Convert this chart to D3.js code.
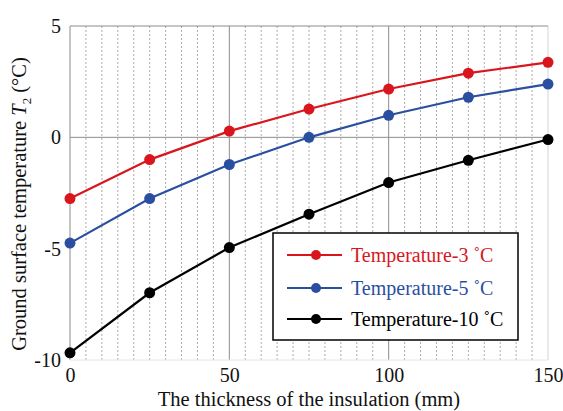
<!DOCTYPE html>
<html>
<head>
<meta charset="utf-8">
<script src="https://cdn.jsdelivr.net/npm/d3@7"></script>
<style>
  body { margin: 0; background: #fff; }
  svg { display: block; font-family: "Liberation Serif", "Times New Roman", serif; }
  svg text { font-family: "Liberation Serif", "Times New Roman", serif !important; }
</style>
</head>
<body>
<svg id="chart" width="563" height="411"></svg>
<script>
const thickness = [0, 25, 50, 75, 100, 125, 150];
const temp3 = [-2.75, -1.0, 0.28, 1.27, 2.17, 2.88, 3.37];
const temp5 = [-4.75, -2.75, -1.22, 0.0, 0.99, 1.8, 2.39];
const temp10 = [-9.68, -6.98, -4.95, -3.45, -2.03, -1.03, -0.1];
const seriesNames = ["Temperature-3 \u02daC", "Temperature-5 \u02daC", "Temperature-10 \u02daC"];
const seriesColors = ["#d9161e", "#2b4fa0", "#000000"];
const xTicks = [0, 50, 100, 150];
const yTicks = [5, 0, -5, -10];

const svg = d3.select("#chart");
const x = d3.scaleLinear().domain([0, 150]).range([70, 548]);
const y = d3.scaleLinear().domain([-10, 5]).range([360, 26]);

// minor dotted verticals every 5
const minor = d3.range(5, 150, 5).filter(v => v % 50 !== 0);
svg.append("g").selectAll("line").data(minor).join("line")
  .attr("x1", d => x(d)).attr("x2", d => x(d))
  .attr("y1", y(5)).attr("y2", y(-10))
  .attr("stroke", "#ababab").attr("stroke-width", 1)
  .attr("stroke-dasharray", "2,2");

// major verticals
svg.append("g").selectAll("line").data(xTicks).join("line")
  .attr("x1", d => x(d)).attr("x2", d => x(d))
  .attr("y1", y(5)).attr("y2", y(-10))
  .attr("stroke", d => d === 150 ? "#d4d4d4" : "#8c8c8c").attr("stroke-width", 1);

// horizontal lines
svg.append("g").selectAll("line").data([5, 0]).join("line")
  .attr("x1", x(0)).attr("x2", x(150))
  .attr("y1", d => y(d)).attr("y2", d => y(d))
  .attr("stroke", "#8c8c8c").attr("stroke-width", 1);
svg.append("line")
  .attr("x1", x(0)).attr("x2", x(150))
  .attr("y1", y(-10)).attr("y2", y(-10))
  .attr("stroke", "#e6e6e6").attr("stroke-width", 1);

// axes tick labels
const xAxis = d3.axisBottom(x).tickValues(xTicks).tickSize(0).tickPadding(8).tickFormat(d => String(d));
const gx = svg.append("g").attr("transform", `translate(0,${y(-10)})`).call(xAxis);
gx.select(".domain").remove();
gx.selectAll("text").attr("fill", "#111")
  .style("font-family", "'Liberation Serif', serif").style("font-size", "20px");

const yAxis = d3.axisLeft(y).tickValues(yTicks).tickSize(0).tickPadding(9).tickFormat(d => String(d));
const gy = svg.append("g").attr("transform", `translate(${x(0)},0)`).call(yAxis);
gy.select(".domain").remove();
gy.selectAll("text").attr("fill", "#111")
  .style("font-family", "'Liberation Serif', serif").style("font-size", "20px");

// lines
const allSeries = [temp3, temp5, temp10];
const line = d3.line().x((d, i) => x(thickness[i])).y(d => y(d));
allSeries.forEach((vals, si) => {
  svg.append("path").datum(vals)
    .attr("d", line).attr("fill", "none")
    .attr("stroke", seriesColors[si]).attr("stroke-width", 2.2);
  svg.append("g").selectAll("circle").data(vals).join("circle")
    .attr("cx", (d, i) => x(thickness[i])).attr("cy", d => y(d))
    .attr("r", 5.5).attr("fill", seriesColors[si]);
});

// legend
const lg = svg.append("g");
lg.append("rect").attr("x", 273).attr("y", 233).attr("width", 245).attr("height", 107)
  .attr("fill", "#fff").attr("stroke", "#000").attr("stroke-width", 1.5);
const rowsY = [255, 288, 319];
seriesNames.forEach((name, i) => {
  lg.append("line").attr("x1", 287).attr("x2", 342).attr("y1", rowsY[i]).attr("y2", rowsY[i])
    .attr("stroke", seriesColors[i]).attr("stroke-width", 2);
  lg.append("circle").attr("cx", 316).attr("cy", rowsY[i]).attr("r", 5).attr("fill", seriesColors[i]);
  lg.append("text").attr("x", 351).attr("y", rowsY[i]).attr("dy", "0.35em")
    .attr("font-size", 20).attr("fill", seriesColors[i]).text(name);
});

// axis titles
svg.append("text").attr("x", 309).attr("y", 406).attr("text-anchor", "middle")
  .attr("font-size", 20.5).attr("fill", "#111").text("The thickness of the insulation (mm)");

const yt = svg.append("text").attr("transform", "translate(26,204) rotate(-90)")
  .attr("text-anchor", "middle").attr("font-size", 20.5).attr("fill", "#111");
yt.append("tspan").text("Ground surface temperature ");
yt.append("tspan").attr("font-style", "italic").text("T");
yt.append("tspan").attr("font-size", 13).attr("dy", 5).text("2");
yt.append("tspan").attr("dy", -5).text(" (\u00b0C)");
</script>
</body>
</html>
